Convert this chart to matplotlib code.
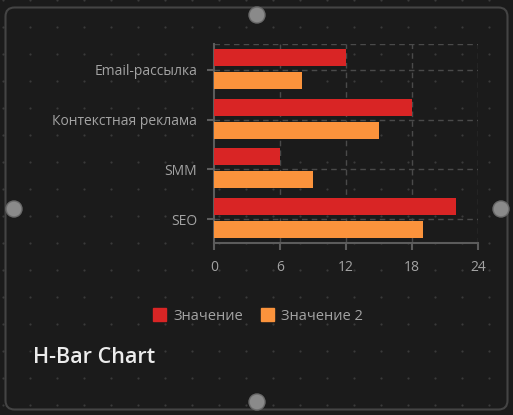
import matplotlib.pyplot as plt
import numpy as np
from matplotlib.patches import FancyBboxPatch, Circle, Patch

plt.rcParams['font.family'] = ['Open Sans', 'DejaVu Sans']

# данные
categories = ["Email-рассылка", "Контекстная реклама", "SMM", "SEO"]
values_1 = [12, 18, 6, 22]
values_2 = [8, 15, 9, 19]
series_names = ["Значение", "Значение 2"]
x_ticks = [0, 6, 12, 18, 24]

bg = "#1b1b1b"
red = "#d92525"
orange = "#fb933c"
text_col = "#a3a3a3"
grid_col = "#4a4a4a"
axis_col = "#5c5c5c"

W, H = 513, 415
fig = plt.figure(figsize=(W / 100, H / 100), dpi=100)
fig.patch.set_facecolor(bg)

# фон с точками, рамка и ручки
bg_ax = fig.add_axes([0, 0, 1, 1])
bg_ax.set_xlim(0, W)
bg_ax.set_ylim(H, 0)
bg_ax.axis("off")
gx, gy = np.meshgrid(np.arange(3, W, 27), np.arange(0, H, 27))
bg_ax.scatter(gx.ravel(), gy.ravel(), s=2.5, color="#3a3a3a", linewidths=0)
bg_ax.add_patch(FancyBboxPatch((5.5, 7.5), 502, 402,
                               boxstyle="round,pad=0,rounding_size=9",
                               fill=False, edgecolor="#444444", linewidth=1.5))
for cx, cy in [(257, 15), (14, 209), (501, 209), (257, 402)]:
    bg_ax.add_patch(Circle((cx, cy), 8, facecolor="#8a8a8a",
                           edgecolor="#6a6a6a", linewidth=1))
bg_ax.text(33, 357, "H-Bar Chart", color="#ececec", fontsize=15.5,
           fontweight="semibold", va="center", ha="left")

# основной график
ax = fig.add_axes([214 / W, 1 - 243 / H, (478 - 214) / W, (243 - 44) / H])
ax.set_facecolor("none")
y = np.arange(len(categories))
h = 0.34
off = 0.23
ax.barh(y - off, values_1, height=h, color=red, zorder=3)
ax.barh(y + off, values_2, height=h, color=orange, zorder=3)

ax.set_xlim(0, 24)
ax.set_ylim(3.5, -0.5)
ax.set_xticks(x_ticks)
ax.set_yticks(y + 0.02)
ax.set_yticklabels(categories)

for xv in x_ticks[1:]:
    ax.axvline(xv, color=grid_col, linestyle=(0, (4, 3)), linewidth=1, zorder=1)
for yv in y:
    ax.axhline(yv + 0.02, color=grid_col, linestyle=(0, (4, 3)), linewidth=1, zorder=1)
ax.axhline(-0.5, color=grid_col, linestyle=(0, (4, 3)), linewidth=1, zorder=1)

for s in ["top", "right"]:
    ax.spines[s].set_visible(False)
for s in ["left", "bottom"]:
    ax.spines[s].set_color(axis_col)
    ax.spines[s].set_linewidth(1.5)
ax.tick_params(colors=axis_col, labelcolor=text_col, labelsize=10,
               length=5, width=1.5)
ax.tick_params(axis="y", pad=7)
ax.tick_params(axis="x", pad=7)

handles = [Patch(facecolor=red, edgecolor=red), Patch(facecolor=orange, edgecolor=orange)]
leg = fig.legend(handles, series_names, loc="center", bbox_to_anchor=(258 / W, 1 - 316 / H),
                 ncol=2, frameon=False, fontsize=10.5, labelcolor=text_col,
                 handlelength=0.9, handleheight=0.9, handletextpad=0.5, columnspacing=1.2)

fig.savefig("out.png", dpi=100, facecolor=bg)
